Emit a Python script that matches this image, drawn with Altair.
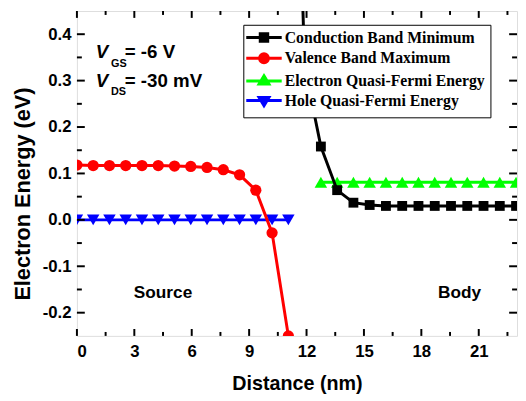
import altair as alt
import pandas as pd

# ---------------- data ----------------
series_names = [
    "Conduction Band Minimum",
    "Valence Band Maximum",
    "Electron Quasi-Fermi Energy",
    "Hole Quasi-Fermi Energy",
]
series_colors = ["#000000", "#ff0000", "#00ff00", "#0000ff"]

cb_x = [11.05, 11.9, 12.75, 13.6, 14.45, 15.3, 16.15, 17.0, 17.85, 18.7, 19.55, 20.4, 21.25, 22.1, 22.95]
cb_y = [1.5, 0.33, 0.158, 0.064, 0.037, 0.032, 0.030, 0.030, 0.030, 0.030, 0.030, 0.030, 0.030, 0.030, 0.030]

vb_x = [0.0, 0.85, 1.7, 2.55, 3.4, 4.25, 5.1, 5.95, 6.8, 7.65, 8.5, 9.35, 10.2, 11.05]
vb_y = [0.118, 0.117, 0.117, 0.117, 0.117, 0.117, 0.116, 0.115, 0.113, 0.108, 0.097, 0.064, -0.028, -0.25]

eq_x = [12.75, 13.6, 14.45, 15.3, 16.15, 17.0, 17.85, 18.7, 19.55, 20.4, 21.25, 22.1, 22.95]
eq_y = [0.081, 0.081, 0.081, 0.081, 0.081, 0.081, 0.081, 0.081, 0.081, 0.081, 0.081, 0.081, 0.081]

hq_x = [0.0, 0.85, 1.7, 2.55, 3.4, 4.25, 5.1, 5.95, 6.8, 7.65, 8.5, 9.35, 10.2, 11.05]
hq_y = [0.0, 0.0, 0.0, 0.0, 0.0, 0.0, 0.0, 0.0, 0.0, 0.0, 0.0, 0.0, 0.0, 0.0]

x_major = [0, 3, 6, 9, 12, 15, 18, 21]
x_minor = [1.5, 4.5, 7.5, 10.5, 13.5, 16.5, 19.5, 22.5]
y_major = [-0.2, -0.1, 0.0, 0.1, 0.2, 0.3, 0.4]
y_minor = [-0.15, -0.05, 0.05, 0.15, 0.25, 0.35]

ann_v_x = [0.98, 0.98]
ann_v_y = [0.348, 0.287]
ann_sub_x = [1.78, 1.78]
ann_sub_y = [0.329, 0.270]
ann_sub_text = ["GS", "DS"]
ann_rest_x = [2.5, 2.5]
ann_rest_text = ["= -6 V", "= -30 mV"]
region_x = [4.5, 20.0]
region_y = [-0.168, -0.168]
region_text = ["Source", "Body"]

# ---------------- chart ----------------
W, H = 447, 330
FONT = "Liberation Sans"
xs = alt.Scale(domain=[0, 23], nice=False, zero=False)
ys = alt.Scale(domain=[-0.25, 0.45], nice=False, zero=False)

x_enc = alt.X("x:Q", scale=xs, axis=alt.Axis(
    values=x_major, title="Distance (nm)", labelFont=FONT, labelFontSize=17,
    labelFontWeight="bold", labelColor="black", labelPadding=8,
    titleFont=FONT, titleFontSize=20, titleFontWeight="bold", titleColor="black",
    titleBaseline="alphabetic", titleY=54, domain=False, ticks=False, grid=False))
y_enc = alt.Y("y:Q", scale=ys, axis=alt.Axis(
    values=y_major, title="Electron Energy (eV)", labelFont=FONT, labelFontSize=17,
    labelFontWeight="bold", labelColor="black", labelPadding=6,
    labelExpr="replace(format(datum.value, '.1f'), '\u2212', '-')",
    titleFont=FONT, titleFontSize=22, titleFontWeight="bold", titleColor="black",
    titleBaseline="middle", titleX=-55, titleY=185.5, titleAlign="center",
    domain=False, ticks=False, grid=False))

def series_df(xv, yv):
    return pd.DataFrame({"x": xv, "y": yv})

shapes = ["square", "circle", "triangle-up", "triangle-down"]
sizes = [100, 130, 160, 160]
data_sets = [(cb_x, cb_y), (vb_x, vb_y), (eq_x, eq_y), (hq_x, hq_y)]

layers = []
for idx in [3, 2, 1, 0]:
    df = series_df(*data_sets[idx])
    base = alt.Chart(df)
    layers.append(base.mark_line(color=series_colors[idx], strokeWidth=3, clip=True)
                  .encode(x=x_enc, y=y_enc))
    layers.append(base.mark_point(filled=True, shape=shapes[idx], size=sizes[idx],
                                  color=series_colors[idx], opacity=1, clip=True)
                  .encode(x=x_enc, y=y_enc))

# legend layer (no marks drawn, only provides the legend)
legend_paths = [
    "M-4.5,0H4.5M-0.95,-0.95H0.95V0.95H-0.95Z",
    "M-4.5,0H4.5M1.12,0A1.12,1.12,0,1,1,-1.12,0A1.12,1.12,0,1,1,1.12,0Z",
    "M-4.5,0H4.5M0,-1.3L1.25,0.8H-1.25Z",
    "M-4.5,0H4.5M0,1.3L1.25,-0.8H-1.25Z",
]
NBSP = "\u00a0"
leg = alt.Legend(title=None, orient="none", legendX=169, legendY=14,
                 fillColor="white", strokeColor="black", padding=5,
                 labelFont="Liberation Serif", labelFontWeight="bold",
                 labelFontSize=16, labelColor="black", labelLimit=600,
                 symbolSize=64, symbolOpacity=1,
                 symbolStrokeWidth=3, rowPadding=0, symbolOffset=8,
                 labelOffset=13, labelExpr="datum.label + '" + NBSP * 6 + "'")
legend_df = pd.DataFrame({"series": series_names, "x": [cb_x[0], vb_x[0], eq_x[0], hq_x[0]],
                          "y": [cb_y[0], vb_y[0], eq_y[0], hq_y[0]]})
legend_layer = alt.Chart(legend_df).transform_filter("false").mark_point(
    filled=True, strokeWidth=3, opacity=1).encode(
    x=x_enc, y=y_enc,
    fill=alt.Fill("series:N", scale=alt.Scale(domain=series_names, range=series_colors), legend=leg),
    stroke=alt.Stroke("series:N", scale=alt.Scale(domain=series_names, range=series_colors), legend=leg),
    shape=alt.Shape("series:N", scale=alt.Scale(domain=series_names, range=legend_paths), legend=leg),
)

# annotations
t_v = alt.Chart(pd.DataFrame({"x": ann_v_x, "y": ann_v_y, "t": ["V", "V"]})).mark_text(
    font=FONT, fontSize=19, fontWeight="bold", fontStyle="italic", align="left",
    baseline="alphabetic", color="black").encode(x=x_enc, y=y_enc, text="t:N")
t_sub = alt.Chart(pd.DataFrame({"x": ann_sub_x, "y": ann_sub_y, "t": ann_sub_text})).mark_text(
    font=FONT, fontSize=11, fontWeight="bold", align="left",
    baseline="alphabetic", color="black").encode(x=x_enc, y=y_enc, text="t:N")
t_rest = alt.Chart(pd.DataFrame({"x": ann_rest_x, "y": ann_v_y, "t": ann_rest_text})).mark_text(
    font=FONT, fontSize=19, fontWeight="bold", align="left",
    baseline="alphabetic", color="black").encode(x=x_enc, y=y_enc, text="t:N")
t_reg = alt.Chart(pd.DataFrame({"x": region_x, "y": region_y, "t": region_text})).mark_text(
    font=FONT, fontSize=17.5, fontWeight="bold", align="center",
    baseline="alphabetic", color="black").encode(x=x_enc, y=y_enc, text="t:N")

# inward ticks on all four sides
def xticks(vals, y0, y1):
    return alt.Chart(pd.DataFrame({"x": vals})).mark_rule(color="black", strokeWidth=2).encode(
        x=x_enc, y=alt.value(y0), y2=alt.value(y1))

def yticks(vals, x0, x1):
    return alt.Chart(pd.DataFrame({"y": vals})).mark_rule(color="black", strokeWidth=2).encode(
        y=y_enc, x=alt.value(x0), x2=alt.value(x1))

ticks = [
    xticks(x_major, H, H - 7), xticks(x_minor, H, H - 4),
    xticks(x_major, 0, 7), xticks(x_minor, 0, 4),
    yticks(y_major, 0, 8), yticks(y_minor, 0, 5),
    yticks(y_major, W, W - 8), yticks(y_minor, W, W - 5),
]

chart = alt.layer(*layers, legend_layer, t_v, t_sub, t_rest, t_reg, *ticks).properties(
    width=W, height=H, autosize="none",
    padding={"left": 70, "top": 0, "right": 1, "bottom": 58},
).configure_view(stroke="black", strokeWidth=2.5).configure(background="white")

chart.save("out.html", embed_options={"renderer": "svg", "actions": False})
